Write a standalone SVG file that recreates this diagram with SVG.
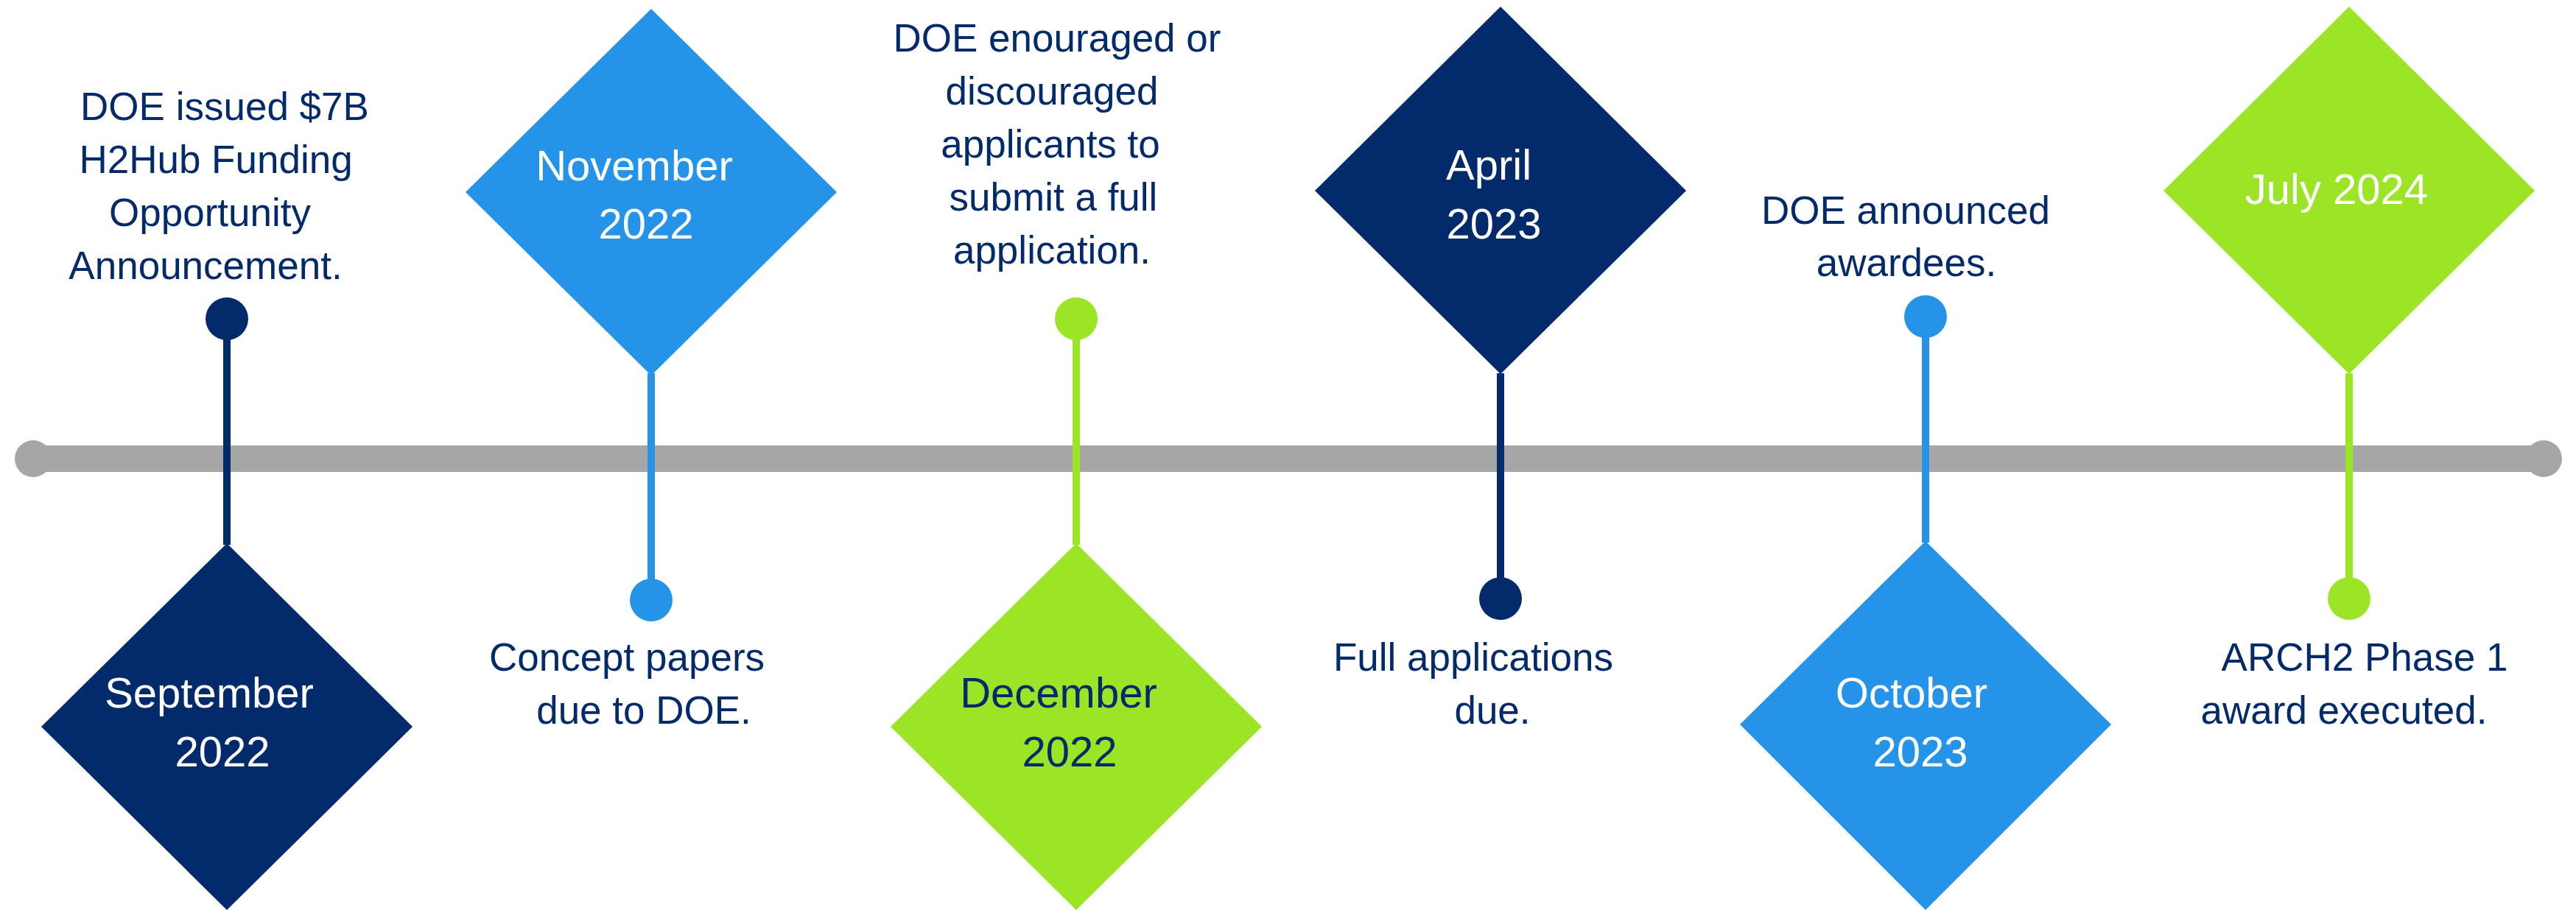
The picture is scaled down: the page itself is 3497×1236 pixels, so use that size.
<svg xmlns="http://www.w3.org/2000/svg" width="3497" height="1236" viewBox="0 0 3497 1236">
  <style>
    .navy { fill: #032A6B; }
    .blue { fill: #2594E8; }
    .green { fill: #9BE526; }
    .ln { stroke-width: 10; fill: none; }
    .ln-navy { stroke: #032A6B; }
    .ln-blue { stroke: #2594E8; }
    .ln-green { stroke: #9BE526; }
    text { font-family: "Liberation Sans", Arial, sans-serif; text-anchor: middle; }
    .desc { font-size: 53px; fill: #032A6B; }
    .lbl { font-size: 58px; fill: #FFFFFF; }
    .lbl-dark { font-size: 58px; fill: #032A6B; }
  </style>
  <rect width="3497" height="1236" fill="#FFFFFF"/>

  <g id="timeline">
    <rect x="45" y="605" width="3408" height="36" fill="#A6A6A6"/>
    <circle cx="45" cy="623" r="25" fill="#A6A6A6"/>
    <circle cx="3453" cy="623" r="25" fill="#A6A6A6"/>
  </g>

  <g id="connectors">
    <line class="ln ln-navy" x1="308" y1="433" x2="308" y2="740"/>
    <line class="ln ln-blue" x1="884" y1="507" x2="884" y2="815"/>
    <line class="ln ln-green" x1="1461" y1="433" x2="1461" y2="740"/>
    <line class="ln ln-navy" x1="2037" y1="507" x2="2037" y2="813"/>
    <line class="ln ln-blue" x1="2614" y1="430" x2="2614" y2="737"/>
    <line class="ln ln-green" x1="3189" y1="507" x2="3189" y2="813"/>
  </g>

  <g id="node-sep-2022">
    <circle class="navy" cx="308" cy="433" r="29"/>
    <polygon class="navy" points="308,738 560,987 308,1236 56,987"/>
    <text class="lbl" x="284" y="961">September</text>
    <text class="lbl" x="302" y="1041">2022</text>
    <text class="desc" x="305" y="163">DOE issued $7B</text>
    <text class="desc" x="293" y="235">H2Hub Funding</text>
    <text class="desc" x="285" y="307">Opportunity</text>
    <text class="desc" x="279" y="379">Announcement.</text>
  </g>

  <g id="node-nov-2022">
    <polygon class="blue" points="884,12 1136,261 884,510 632,261"/>
    <circle class="blue" cx="884" cy="815" r="29"/>
    <text class="lbl" x="861" y="245">November</text>
    <text class="lbl" x="877" y="324">2022</text>
    <text class="desc" x="851" y="911">Concept papers</text>
    <text class="desc" x="874" y="983">due to DOE.</text>
  </g>

  <g id="node-dec-2022">
    <circle class="green" cx="1461" cy="433" r="29"/>
    <polygon class="green" points="1461,738 1713,987 1461,1236 1209,987"/>
    <text class="lbl-dark" x="1437" y="961">December</text>
    <text class="lbl-dark" x="1452" y="1041">2022</text>
    <text class="desc" x="1435" y="70">DOE enouraged or</text>
    <text class="desc" x="1428" y="142">discouraged</text>
    <text class="desc" x="1426" y="214">applicants to</text>
    <text class="desc" x="1430" y="286">submit a full</text>
    <text class="desc" x="1428" y="358">application.</text>
  </g>

  <g id="node-apr-2023">
    <polygon class="navy" points="2037,9 2289,259 2037,508 1785,259"/>
    <circle class="navy" cx="2037" cy="813" r="29"/>
    <text class="lbl" x="2021" y="244">April</text>
    <text class="lbl" x="2028" y="324">2023</text>
    <text class="desc" x="2000" y="911">Full applications</text>
    <text class="desc" x="2026" y="983">due.</text>
  </g>

  <g id="node-oct-2023">
    <circle class="blue" cx="2614" cy="430" r="29"/>
    <polygon class="blue" points="2614,735 2866,984 2614,1236 2362,984"/>
    <text class="lbl" x="2595" y="961">October</text>
    <text class="lbl" x="2607" y="1041">2023</text>
    <text class="desc" x="2587" y="304">DOE announced</text>
    <text class="desc" x="2588" y="375">awardees.</text>
  </g>

  <g id="node-jul-2024">
    <polygon class="green" points="3189,9 3441,259 3189,508 2937,259"/>
    <circle class="green" cx="3189" cy="813" r="29"/>
    <text class="lbl" x="3172" y="277">July 2024</text>
    <text class="desc" x="3210" y="911">ARCH2 Phase 1</text>
    <text class="desc" x="3182" y="983">award executed.</text>
  </g>
</svg>
